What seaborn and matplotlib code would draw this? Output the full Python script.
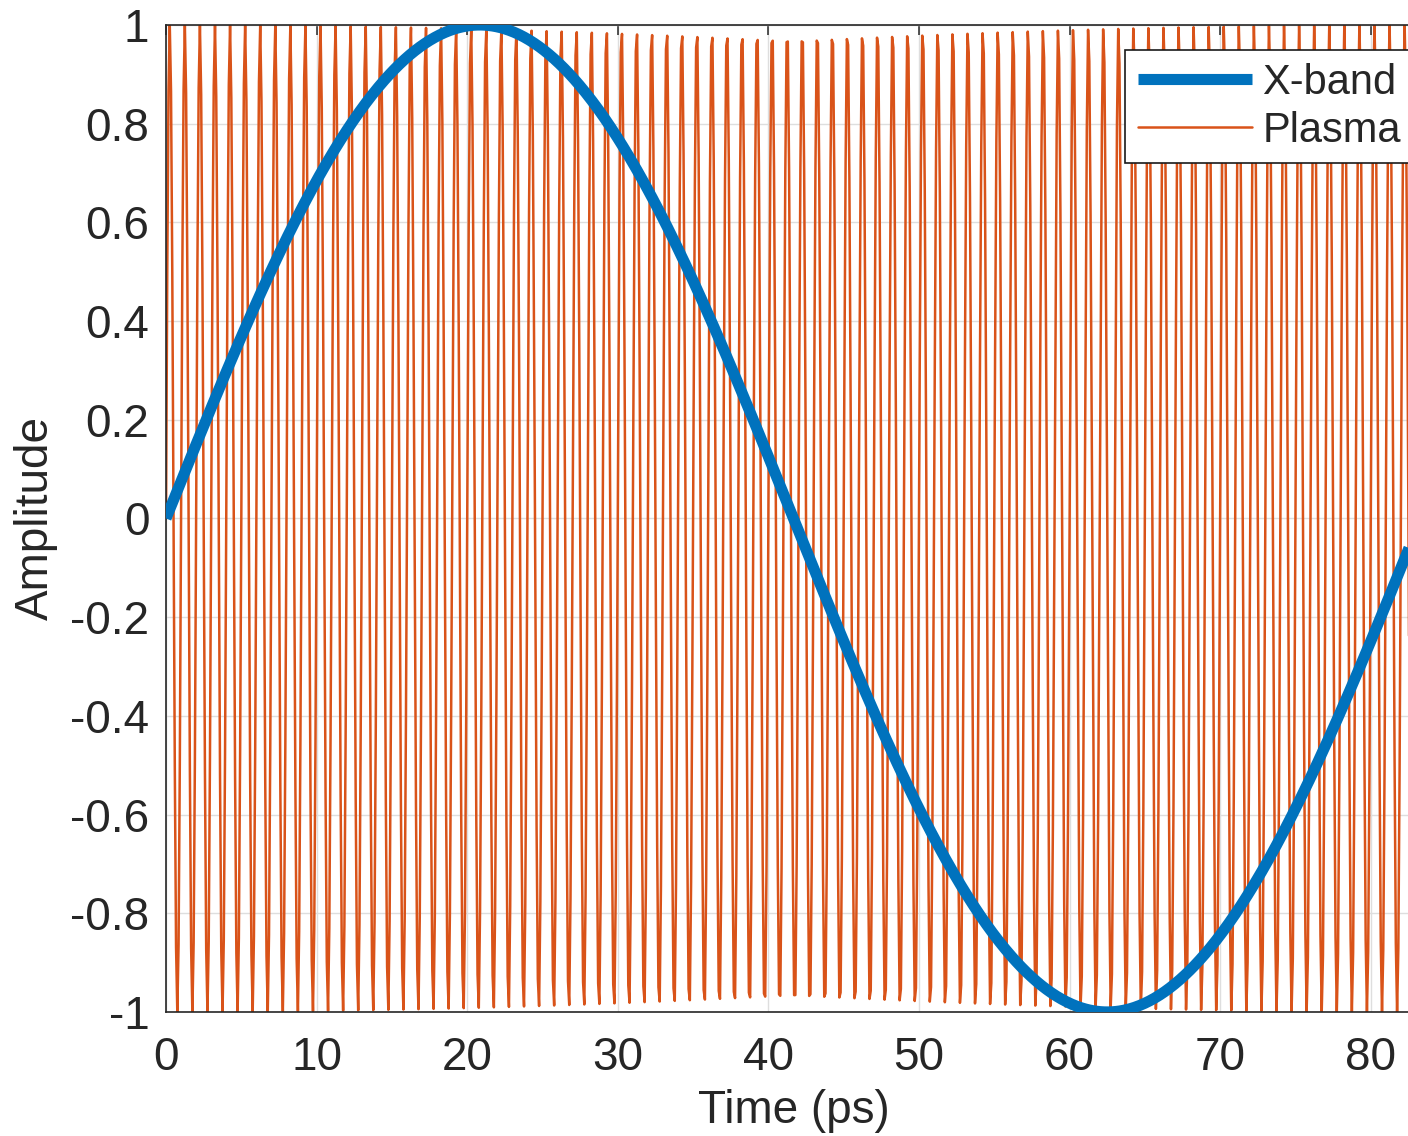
import numpy as np
import pandas as pd
import matplotlib
matplotlib.use("Agg")
import matplotlib.pyplot as plt
import seaborn as sns

# Signal parameters
xband_freq_ghz = 12.0      # X-band carrier
plasma_freq_thz = 1.0      # plasma oscillation
n_samples = 1000           # samples over one X-band period

series_names = ["X-band", "Plasma"]
series_colors = ["#0072BD", "#D95319"]
series_widths = [8.0, 1.8]

x_ticks = [0, 10, 20, 30, 40, 50, 60, 70, 80]
y_ticks = [-1, -0.8, -0.6, -0.4, -0.2, 0, 0.2, 0.4, 0.6, 0.8, 1]

# Time base: one full X-band period, in picoseconds
t_end_ps = 1e3 / xband_freq_ghz
t_ps = np.linspace(0.0, t_end_ps, n_samples)
xband = np.sin(2 * np.pi * xband_freq_ghz * 1e-3 * t_ps)
plasma = np.sin(2 * np.pi * plasma_freq_thz * t_ps)

df = pd.DataFrame({"Time (ps)": t_ps, "X-band": xband, "Plasma": plasma})

sns.set_style("white")
plt.rcParams["font.family"] = ["Liberation Sans", "DejaVu Sans"]
plt.rcParams["axes.unicode_minus"] = False

fig = plt.figure(figsize=(14.08, 11.36), dpi=100)
ax = fig.add_axes([0.1179, 0.1092, 0.8913, 0.8688])

sns.lineplot(data=df, x="Time (ps)", y="X-band", ax=ax, color=series_colors[0],
             linewidth=series_widths[0], label=series_names[0], zorder=3,
             estimator=None, sort=False, solid_capstyle="butt")
sns.lineplot(data=df, x="Time (ps)", y="Plasma", ax=ax, color=series_colors[1],
             linewidth=series_widths[1], label=series_names[1], zorder=2,
             estimator=None, sort=False)

ax.set_xlim(0, t_end_ps)
ax.set_ylim(-1, 1)
ax.set_xticks(x_ticks)
ax.set_yticks(y_ticks)
ax.set_xticklabels([f"{v:g}" for v in x_ticks])
ax.set_yticklabels([f"{v:g}" for v in y_ticks])

text_color = "#262626"
ax.tick_params(axis="both", direction="in", top=True, right=True, length=7,
               width=1.1, labelsize=33, colors=text_color, pad=12)
ax.tick_params(axis="x", pad=17)
ax.grid(True, color="#dedede", linewidth=1.0, zorder=0)
ax.set_axisbelow(True)
for s in ax.spines.values():
    s.set_color(text_color)
    s.set_linewidth(1.2)

ax.set_xlabel("Time (ps)", fontsize=33, color=text_color, labelpad=7)
ax.set_ylabel("Amplitude", fontsize=33, color=text_color, labelpad=9)

leg = ax.legend(loc="upper left", bbox_to_anchor=(1125 / 1408, 1 - 50 / 1136),
                bbox_transform=fig.transFigure, borderaxespad=0, fontsize=30,
                fancybox=False, framealpha=1, edgecolor="#1a1a1a",
                handlelength=2.75, handletextpad=0.25, labelspacing=0.2,
                borderpad=0.3)
leg.get_frame().set_linewidth(1.2)

fig.savefig("out.png", dpi=100)
